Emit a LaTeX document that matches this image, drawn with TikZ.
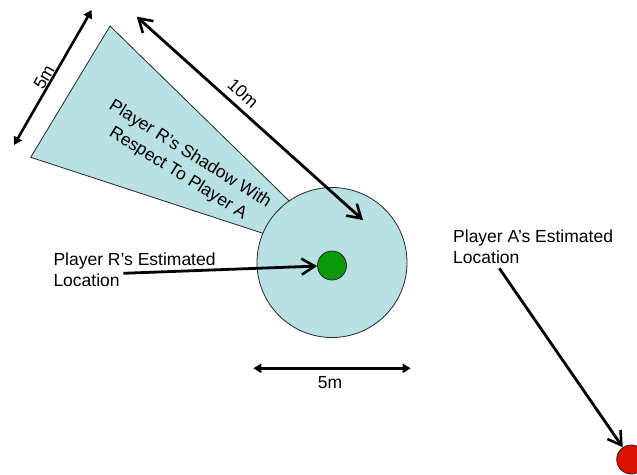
\documentclass[tikz,border=0pt]{standalone}
\usepackage{fontspec}
\setmainfont{Liberation Sans}
\usetikzlibrary{arrows.meta}
\definecolor{shade}{RGB}{185,224,227}
\definecolor{rgreen}{RGB}{10,153,10}
\definecolor{ared}{RGB}{220,18,0}
\tikzset{
  lbl/.style={inner sep=0pt, font=\fontsize{17.5}{21}\selectfont, text=black},
  openarrow/.style={line width=2.8pt, -{Straight Barb[length=13pt,width=16pt,line width=2.6pt]}},
  dimarrow/.style={line width=2.6pt, {Triangle[length=8pt,width=9pt]}-{Triangle[length=8pt,width=9pt]}},
  dimarrowopen/.style={line width=2.8pt, {Straight Barb[length=13pt,width=16pt,line width=2.6pt]}-{Straight Barb[length=13pt,width=16pt,line width=2.6pt]}},
  outline/.style={draw=black!85, line width=0.8pt}
}
\begin{document}
\begin{tikzpicture}[x=1pt,y=-1pt]
\useasboundingbox (0,0) rectangle (637,474);
\clip (0,0) rectangle (637,474);
% shadow
\filldraw[outline, fill=shade] (110,26) -- (30.7,157.3) -- (320,252) -- (320,231) -- cycle;
% circles
\node[outline, fill=shade, circle, minimum size=150pt, inner sep=0pt] (range) at (332,262.5) {};
\node[outline, fill=rgreen, circle, minimum size=29pt, inner sep=0pt] (rloc) at (332,265.5) {};
\node[outline, fill=ared, circle, minimum size=29pt, inner sep=0pt] (aloc) at (631.2,459.5) {};
% shadow text
\node[lbl, font=\fontsize{17.5}{22.5}\selectfont, align=center, rotate=-32] (shadowtxt) at (184,164) {Player R’s Shadow With\\Respect To Player A};
% 5m left
\coordinate (w1) at (91.7,10);
\coordinate (w2) at (14,145);
\draw[dimarrow] (w1) -- (w2);
\node[lbl, rotate=60] (wlbl) at (44,77) {5m};
% 10m
\coordinate (l1) at (136.7,16.7);
\coordinate (l2) at (363,220);
\draw[dimarrowopen] (l1) -- (l2);
\node[lbl, rotate=-42] (llbl) at (243,93) {10m};
% 5m horizontal
\coordinate (h1) at (253.3,368.3);
\coordinate (h2) at (410.7,368.3);
\draw[dimarrow] (h1) -- (h2);
\node[lbl] (hlbl) at (330,383) {5m};
% Player R text
\node[lbl, align=left, anchor=north west] (rtxt) at (53.3,253) {Player R’s Estimated\\Location};
\coordinate (rstart) at (123.3,273.3);
\draw[openarrow] (rstart) -- (rloc);
% Player A text
\node[lbl, align=left, anchor=north west] (atxt) at (453,229.5) {Player A’s Estimated\\Location};
\coordinate (astart) at (499.3,268.3);
\draw[openarrow] (astart) -- (aloc);
\end{tikzpicture}
\end{document}
